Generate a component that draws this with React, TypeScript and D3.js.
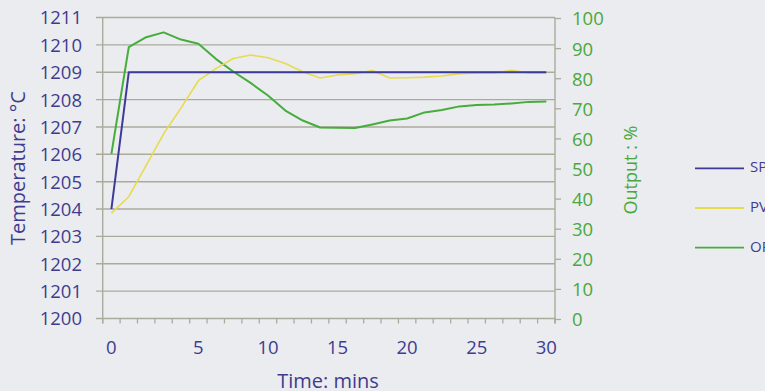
import React from "react";
import * as d3 from "d3";

// Sample times (minutes) – one sample per category on the chart's time axis
const TIME = [0, 1, 2, 3, 4, 5, 6.25, 7.5, 8.75, 10, 11.25, 12.5, 13.75, 15, 16.25, 17.5, 18.75, 20, 21.25, 22.5, 23.75, 25, 26.25, 27.5, 28.75, 30];
// Set point (°C)
const SP = [1204, 1209, 1209, 1209, 1209, 1209, 1209, 1209, 1209, 1209, 1209, 1209, 1209, 1209, 1209, 1209, 1209, 1209, 1209, 1209, 1209, 1209, 1209, 1209, 1209, 1209];
// Process value (°C)
const PV = [1203.85, 1204.45, 1205.6, 1206.75, 1207.69, 1208.69, 1209.13, 1209.5, 1209.63, 1209.53, 1209.32, 1209.02, 1208.79, 1208.9, 1208.95, 1209.06, 1208.79, 1208.8, 1208.82, 1208.86, 1208.95, 1208.97, 1208.97, 1209.07, 1208.97, 1208.97];
// Output (%)
const OP = [55.0, 90.5, 93.8, 95.4, 93.0, 91.6, 86.6, 82.4, 78.6, 74.4, 69.4, 66.1, 63.8, 63.7, 63.6, 64.8, 66.1, 66.8, 68.8, 69.6, 70.8, 71.3, 71.4, 71.8, 72.3, 72.4];

const X_TICKS = [0, 5, 10, 15, 20, 25, 30];
const LEFT_TICKS = [1200, 1201, 1202, 1203, 1204, 1205, 1206, 1207, 1208, 1209, 1210, 1211];
const RIGHT_TICKS = [0, 10, 20, 30, 40, 50, 60, 70, 80, 90, 100];
const LEGEND = [
  { key: "SP", color: "#3d3b98" },
  { key: "PV", color: "#e8db4e" },
  { key: "OP", color: "#46ad3c" },
];

const W = 765;
const H = 391;
const left = 102.7;
const right = 555;
const top = 17.5;
const bottom = 318.5;

const BLUE_TEXT = "#3f3c8f";
const GREEN_TEXT = "#4aa83c";
const GRID = "#abab9c";
const FONT = "'Open Sans', 'Noto Sans', sans-serif";

export default function App() {
  const n = TIME.length;
  const xi = d3.scaleLinear().domain([-0.5, n - 0.5]).range([left, right]);
  const x = d3
    .scaleLinear()
    .domain([TIME[0], TIME[5], TIME[n - 1]])
    .range([xi(0), xi(5), xi(n - 1)]);
  const yL = d3.scaleLinear().domain([1200, 1211]).range([bottom, top]);
  const yR = d3.scaleLinear().domain([0, 100]).range([bottom + 1, top + 1]);

  const lineL = d3
    .line<number>()
    .x((_, i) => x(TIME[i]))
    .y((d) => yL(d));
  const lineR = d3
    .line<number>()
    .x((_, i) => x(TIME[i]))
    .y((d) => yR(d));

  const minorTicks = d3.range(-0.5, n, 1);

  return (
    <svg
      width={W}
      height={H}
      style={{ position: "absolute", left: 0, top: 0, background: "#eaecef" }}
      fontFamily={FONT}
    >
      <rect x={0} y={0} width={W} height={H} fill="#eaecef" />
      {/* gridlines */}
      {LEFT_TICKS.filter((t) => t !== 1200).map((t) => (
        <line key={t} x1={96} x2={right} y1={yL(t)} y2={yL(t)} stroke={GRID} strokeWidth={1.4} />
      ))}
      {/* axes */}
      <line x1={96} x2={right + 1} y1={bottom} y2={bottom} stroke={GRID} strokeWidth={1.4} />
      <line x1={left} x2={left} y1={top} y2={bottom + 5} stroke={GRID} strokeWidth={1.4} />
      <line x1={right} x2={right} y1={top} y2={bottom + 5} stroke={GRID} strokeWidth={1.4} />
      {minorTicks.map((c) => (
        <line key={c} x1={xi(c)} x2={xi(c)} y1={bottom} y2={bottom + 5} stroke={GRID} strokeWidth={1.3} />
      ))}
      {RIGHT_TICKS.map((t) => (
        <line key={t} x1={right} x2={right + 6} y1={yR(t)} y2={yR(t)} stroke={GRID} strokeWidth={1.3} />
      ))}

      {/* left tick labels */}
      {LEFT_TICKS.map((t) => (
        <text key={t} x={82} y={yL(t) + 2} fontSize={18.5} fill={BLUE_TEXT} textAnchor="end" dominantBaseline="middle">
          {t}
        </text>
      ))}
      {/* right tick labels */}
      {RIGHT_TICKS.map((t) => (
        <text key={t} x={572} y={yR(t) + 2} fontSize={18.5} fill={GREEN_TEXT} textAnchor="start" dominantBaseline="middle">
          {t}
        </text>
      ))}
      {/* x tick labels */}
      {X_TICKS.map((t) => (
        <text key={t} x={x(t)} y={354} fontSize={18.5} fill={BLUE_TEXT} textAnchor="middle">
          {t}
        </text>
      ))}

      {/* axis titles */}
      <text x={328} y={388} fontSize={20} fill={BLUE_TEXT} textAnchor="middle">
        Time: mins
      </text>
      <text
        transform={`translate(25,168) rotate(-90)`}
        fontSize={20}
        fill={BLUE_TEXT}
        textAnchor="middle"
      >
        Temperature: °C
      </text>
      <text
        transform={`translate(637,170) rotate(-90)`}
        fontSize={18}
        fill={GREEN_TEXT}
        textAnchor="middle"
      >
        Output : %
      </text>

      {/* series */}
      <path d={lineR(OP) ?? ""} fill="none" stroke={LEGEND[2].color} strokeWidth={2} strokeLinejoin="round" />
      <path d={lineL(PV) ?? ""} fill="none" stroke={LEGEND[1].color} strokeWidth={1.6} strokeLinejoin="round" />
      <path d={lineL(SP) ?? ""} fill="none" stroke={LEGEND[0].color} strokeWidth={2} strokeLinejoin="round" />

      {/* legend */}
      {LEGEND.map((l, i) => (
        <g key={l.key} transform={`translate(695,${168.3 + i * 39.7})`}>
          <line x1={0} x2={49} y1={0} y2={0} stroke={l.color} strokeWidth={1.8} />
          <text x={55} y={0} fontSize={15} fill={BLUE_TEXT} dominantBaseline="middle">
            {l.key}
          </text>
        </g>
      ))}
    </svg>
  );
}
